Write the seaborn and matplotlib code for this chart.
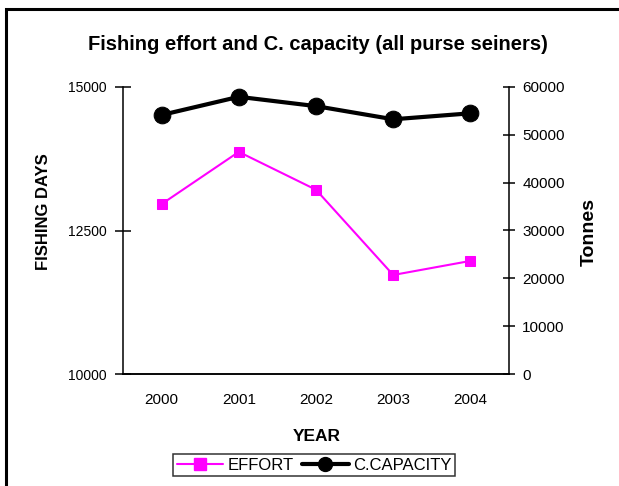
import matplotlib
matplotlib.use("Agg")
import matplotlib.pyplot as plt
import matplotlib.patches as mpatches
from matplotlib.lines import Line2D
import numpy as np
import pandas as pd
import seaborn as sns

# Data
years = ["2000", "2001", "2002", "2003", "2004"]
effort_days = [12960, 13870, 13210, 11725, 11970]
capacity_tonnes = [54150, 57950, 56000, 53250, 54500]

sns.set_style("white")
plt.rcParams["font.family"] = ["Liberation Sans", "DejaVu Sans"]
plt.rcParams["text.color"] = "black"
plt.rcParams["xtick.color"] = "black"
plt.rcParams["ytick.color"] = "black"
plt.rcParams["axes.labelcolor"] = "black"

df = pd.DataFrame({
    "pos": np.arange(len(years)),
    "year": years,
    "effort": effort_days,
    "capacity": capacity_tonnes,
})

fig = plt.figure(figsize=(6.19, 4.86), dpi=100)
ax = fig.add_axes([123 / 619, 1 - 374 / 486, (509 - 123) / 619, (374 - 87) / 486])
ax2 = ax.twinx()

MAGENTA = "#FF00FF"
sns.lineplot(data=df, x="pos", y="effort", ax=ax, color=MAGENTA, lw=1.5,
             marker="s", markersize=7.5, markeredgecolor=MAGENTA,
             markerfacecolor=MAGENTA, legend=False)
sns.lineplot(data=df, x="pos", y="capacity", ax=ax2, color="black", lw=3,
             marker="o", markersize=12, markeredgecolor="black",
             markerfacecolor="black", legend=False)

# Left axis (fishing days)
ax.set_xlim(-0.5, len(years) - 0.5)
ax.set_ylim(10000, 15000)
ax.set_yticks([10000, 12500, 15000])
ax.set_yticklabels(["10000", "12500", "15000"])
ax.tick_params(axis="y", direction="inout", length=11, width=1.1,
               labelsize=10, pad=6, colors="black", labelcolor="black")

# Category axis: labels centred, tick marks between categories
ax.set_xticks(df["pos"])
ax.set_xticklabels(years)
ax.set_xticks(np.arange(-0.5, len(years)), minor=True)
ax.tick_params(axis="x", which="major", length=0, labelsize=11, pad=14,
               labelcolor="black")
ax.tick_params(axis="x", which="minor", direction="inout", length=9.5,
               width=1.1, colors="black")

# Right axis (tonnes)
ax2.set_ylim(0, 60000)
ax2.set_yticks(np.arange(0, 60001, 10000))
ax2.tick_params(axis="y", direction="inout", length=9, width=1.1,
                labelsize=11, pad=5, colors="black", labelcolor="black")

for a in (ax, ax2):
    a.spines["top"].set_visible(False)
    for s in ("left", "right", "bottom"):
        a.spines[s].set_linewidth(1.1)
        a.spines[s].set_color("black")
    a.set_xlabel("")
    a.set_ylabel("")
ax.spines["right"].set_visible(False)
ax2.spines["left"].set_visible(False)

# Axis titles
fig.text(44 / 619, 1 - 212 / 486, "FISHING DAYS", rotation=90, fontsize=12,
         fontweight="bold", ha="center", va="center")
fig.text(589 / 619, 1 - 232 / 486, "Tonnes", rotation=90, fontsize=14,
         fontweight="bold", ha="center", va="center")
fig.text(317 / 619, 1 - 436 / 486, "YEAR", fontsize=12.5, fontweight="bold",
         ha="center", va="center")
fig.text(318 / 619, 1 - 44 / 486,
         "Fishing effort and C. capacity (all purse seiners)", fontsize=14.5,
         fontweight="bold", ha="center", va="center")

# Legend
handles = [
    Line2D([], [], color=MAGENTA, lw=1.5, marker="s", markersize=8),
    Line2D([], [], color="black", lw=3, marker="o", markersize=10),
]
leg = fig.legend(handles, ["EFFORT", "C.CAPACITY"], loc="center",
                 bbox_to_anchor=(314 / 619, 1 - 465 / 486), ncol=2,
                 frameon=True, fancybox=False, fontsize=12, handlelength=2.8,
                 columnspacing=0.5, handletextpad=0.25, borderpad=0.2,
                 borderaxespad=0)
leg.get_frame().set_edgecolor("black")
leg.get_frame().set_linewidth(1.1)

# Outer chart frame
fig.patches.append(mpatches.Rectangle((6 / 619, -0.2), 2, 1 - 9 / 486 + 0.2,
                                      transform=fig.transFigure, fill=False,
                                      edgecolor="black", lw=2.2))

fig.savefig("out.png", dpi=100)
